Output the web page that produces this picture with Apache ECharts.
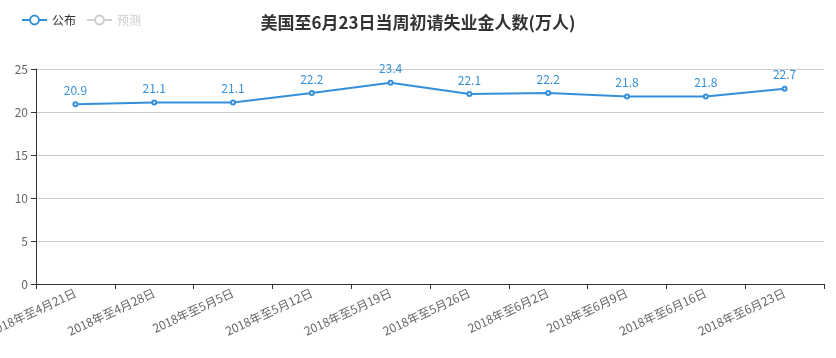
<!DOCTYPE html>
<html><head><meta charset="utf-8">
<script src="https://cdn.jsdelivr.net/npm/echarts@6/dist/echarts.min.js"></script>
<style>html,body{margin:0;padding:0;background:#fff}#c{width:836px;height:358px}</style>
</head><body><div id="c"></div>
<script>
const titleText = '美国至6月23日当周初请失业金人数(万人)';
const categories = ['2018年至4月21日','2018年至4月28日','2018年至5月5日','2018年至5月12日','2018年至5月19日','2018年至5月26日','2018年至6月2日','2018年至6月9日','2018年至6月16日','2018年至6月23日'];
const published = [20.9, 21.1, 21.1, 22.2, 23.4, 22.1, 22.2, 21.8, 21.8, 22.7];
const forecast = [];
const yTicks = [0, 5, 10, 15, 20, 25];

const chart = echarts.init(document.getElementById('c'));
chart.setOption({
  animation: false,
  textStyle: {fontFamily: '"Noto Sans CJK SC", "Noto Sans", sans-serif'},
  title: {text: titleText, left: 'center', top: 9,
    textStyle: {fontSize: 17, fontWeight: 'bold', color: '#333'}},
  legend: {left: 16, top: 9, itemWidth: 25, itemHeight: 11, itemGap: 10,
    data: ['公布', '预测'], selected: {'公布': true, '预测': false},
    textStyle: {fontSize: 12, color: '#333'}, inactiveColor: '#ccc'},
  grid: {left: 36, right: 12, top: 69, bottom: 74, containLabel: false, outerBoundsMode: 'none'},
  xAxis: {type: 'category', data: categories, boundaryGap: true,
    axisLine: {lineStyle: {color: '#333'}},
    axisTick: {show: true, alignWithLabel: false, lineStyle: {color: '#333'}},
    axisLabel: {rotate: 25, interval: 0, color: '#666', fontSize: 12, margin: 8}},
  yAxis: {type: 'value', min: yTicks[0], max: yTicks[yTicks.length-1], interval: 5,
    axisLine: {show: true, lineStyle: {color: '#333'}},
    axisTick: {show: true, lineStyle: {color: '#333'}},
    axisLabel: {color: '#666', fontSize: 12},
    splitLine: {lineStyle: {color: '#ccc'}}},
  series: [
    {name: '公布', type: 'line', data: published, symbol: 'emptyCircle', symbolSize: 4,
      itemStyle: {color: '#3590dc', borderWidth: 1}, lineStyle: {width: 2, color: '#3590dc'},
      label: {show: true, position: 'top', color: '#3590dc', fontSize: 12}},
    {name: '预测', type: 'line', data: forecast, symbol: 'emptyCircle', symbolSize: 4,
      itemStyle: {color: '#f39c12'}}
  ]
});
</script></body></html>
